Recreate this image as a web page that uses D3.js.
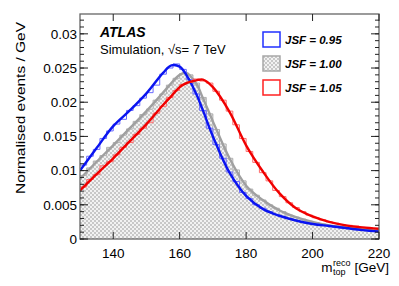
<!DOCTYPE html>
<html>
<head>
<meta charset="utf-8">
<script src="https://cdn.jsdelivr.net/npm/d3@7"></script>
<style>
  body { margin: 0; background: #fff; }
  svg { display: block; font-family: "Liberation Sans", Arial, Helvetica, sans-serif; }
</style>
</head>
<body>
<script>
// fit curves (knots)
var fitMass  = [130, 135, 140, 145, 150, 155, 157.5, 160, 162, 165, 167, 170, 175, 180, 185, 190, 195, 200, 205, 210, 215, 220];
var fitBlue  = [.0100, .0133, .0165, .0188, .0213, .0243, .0254, .0252, .0240, .0212, .0188, .0150, .0097, .0063, .0044, .0034, .0027, .0022, .0019, .0016, .0013, .0011];
var fitGray  = [.0088, .0113, .0137, .0162, .0187, .0214, .0228, .0240, .0243, .0227, .0206, .0172, .0118, .0078, .0057, .0042, .0032, .0025, .0020, .0017, .0015, .0013];
var fitRed   = [.0071, .0095, .0118, .0143, .0168, .0196, .0209, .0222, .0228, .0232, .0233, .0222, .0186, .0137, .0099, .0067, .0045, .0033, .0025, .0020, .0017, .0015];

// histogram bins, 2 GeV wide, low edges 130..218
var binEdges = d3.range(130, 220, 2);
var histBlue = [.0108, .0121, .0131, .0147, .0158, .0168, .0175, .0188, .0195, .0206, .0214, .0225, .0241, .0250, .0256,
                .0248, .0233, .0212, .0188, .0162, .0138, .0118, .0098, .0084, .0068, .0059, .0050, .0045, .0040, .0036,
                .0033, .0030, .0027, .0025, .0023, .0022, .0020, .0019, .0018, .0016, .0015, .0014, .0013, .0012, .0011];
var histGray = [.0093, .0104, .0114, .0122, .0134, .0141, .0152, .0161, .0172, .0182, .0190, .0203, .0212, .0225, .0235,
                .0242, .0240, .0228, .0207, .0183, .0160, .0139, .0118, .0101, .0085, .0073, .0064, .0057, .0050, .0045,
                .0040, .0035, .0032, .0029, .0026, .0024, .0022, .0020, .0019, .0018, .0017, .0016, .0015, .0014, .0013];
var histRed  = [.0076, .0087, .0094, .0107, .0113, .0123, .0134, .0141, .0153, .0162, .0170, .0184, .0194, .0207, .0217,
                .0226, .0229, .0234, .0231, .0228, .0216, .0203, .0187, .0167, .0147, .0128, .0112, .0097, .0085, .0071,
                .0062, .0053, .0046, .0040, .0035, .0031, .0028, .0025, .0023, .0021, .0020, .0019, .0017, .0016, .0015];

var xTicks = [140, 160, 180, 200, 220];
var yTicks = [0, 0.005, 0.01, 0.015, 0.02, 0.025, 0.03];
var legendLabels = ["JSF = 0.95", "JSF = 1.00", "JSF = 1.05"];

var W = 399, H = 286;
var margin = {top: 14, right: 20, bottom: 47, left: 80},
    width = W - margin.left - margin.right,
    height = H - margin.top - margin.bottom;

var svg = d3.select("body").append("svg")
    .attr("width", W)
    .attr("height", H);

// checker pattern for the nominal sample
var defs = svg.append("defs");
var pat = defs.append("pattern")
    .attr("id", "checker")
    .attr("patternUnits", "userSpaceOnUse")
    .attr("width", 4).attr("height", 4);
pat.append("rect").attr("width", 4).attr("height", 4).attr("fill", "#f2f2f2");
pat.append("rect").attr("width", 2).attr("height", 2).attr("fill", "#c8c8c8");
pat.append("rect").attr("x", 2).attr("y", 2).attr("width", 2).attr("height", 2).attr("fill", "#c8c8c8");

defs.append("clipPath").attr("id", "clip")
  .append("rect").attr("width", width).attr("height", height);

var g = svg.append("g")
    .attr("transform", "translate(" + margin.left + "," + margin.top + ")");

var x = d3.scaleLinear().domain([130, 220]).range([0, width]);
var y = d3.scaleLinear().domain([0, 0.0329]).range([height, 0]);

var plot = g.append("g").attr("clip-path", "url(#clip)");

function histPoints(vals) {
  var pts = binEdges.map(function(e, i) { return [e, vals[i]]; });
  pts.push([220, vals[vals.length - 1]]);
  return pts;
}

var stepLine = d3.line()
    .x(function(d) { return x(d[0]); })
    .y(function(d) { return y(d[1]); })
    .curve(d3.curveStepAfter);

var stepArea = d3.area()
    .x(function(d) { return x(d[0]); })
    .y0(y(0))
    .y1(function(d) { return y(d[1]); })
    .curve(d3.curveStepAfter);

var fitLine = d3.line()
    .x(function(d, i) { return x(fitMass[i]); })
    .y(function(d) { return y(d); })
    .curve(d3.curveCatmullRom.alpha(0.5));

// nominal: filled histogram
plot.append("path")
    .attr("d", stepArea(histPoints(histGray)))
    .attr("fill", "url(#checker)");

var series = [
  {hist: histGray, fit: fitGray, hc: "#b0b0b0", fc: "#a0a0a0"},
  {hist: histBlue, fit: fitBlue, hc: "#6a6aff", fc: "#0a14f0"},
  {hist: histRed,  fit: fitRed,  hc: "#ff6a6a", fc: "#f00000"}
];

series.forEach(function(s) {
  plot.append("path")
      .attr("d", stepLine(histPoints(s.hist)))
      .attr("fill", "none")
      .attr("stroke", s.hc)
      .attr("stroke-width", 1);
  plot.append("path")
      .attr("d", fitLine(s.fit))
      .attr("fill", "none")
      .attr("stroke", s.fc)
      .attr("stroke-width", 2.4);
});

// frame and ticks
g.append("rect")
    .attr("width", width).attr("height", height)
    .attr("fill", "none")
    .attr("stroke", "#666")
    .attr("stroke-width", 1.3);

var yMinor = d3.range(0, 0.0329, 0.001);
function tickLines(sel, data, len, side) {
  sel.selectAll(null).data(data).enter().append("line")
    .attr("x1", function(d) { return side == "l" ? 0 : side == "r" ? width : x(d); })
    .attr("x2", function(d) { return side == "l" ? len : side == "r" ? width - len : x(d); })
    .attr("y1", function(d) { return side == "b" ? height : side == "t" ? 0 : y(d); })
    .attr("y2", function(d) { return side == "b" ? height - len : side == "t" ? len : y(d); })
    .attr("stroke", "#222")
    .attr("stroke-width", 1);
}
var ticks = g.append("g");
tickLines(ticks, yTicks, 8, "l");
tickLines(ticks, yTicks, 8, "r");
tickLines(ticks, yMinor, 4, "l");
tickLines(ticks, yMinor, 4, "r");
tickLines(ticks, xTicks, 7, "b");
tickLines(ticks, xTicks, 7, "t");

// tick labels
g.selectAll(".ylab").data(yTicks).enter().append("text")
    .attr("x", -3)
    .attr("y", function(d) { return y(d); })
    .attr("dy", "0.36em")
    .attr("text-anchor", "end")
    .attr("font-size", 13.5)
    .attr("fill", "#000")
    .text(function(d) { return d3.format("~g")(d); });

g.selectAll(".xlab").data(xTicks).enter().append("text")
    .attr("x", function(d) { return x(d); })
    .attr("y", height + 19)
    .attr("text-anchor", "middle")
    .attr("font-size", 13.5)
    .attr("fill", "#000")
    .text(function(d) { return d; });

// axis titles
svg.append("text")
    .attr("transform", "translate(25,22) rotate(-90)")
    .attr("text-anchor", "end")
    .attr("font-size", 13.5)
    .attr("textLength", 172)
    .attr("lengthAdjust", "spacingAndGlyphs")
    .text("Normalised events / GeV");

// m_top^reco [GeV], laid out piece by piece from the right edge
var xtY = 272;
var gev = svg.append("text")
    .attr("x", 389).attr("y", xtY)
    .attr("text-anchor", "end")
    .attr("font-size", 13.5)
    .text("[GeV]");
var gevLeft = 389 - gev.node().getComputedTextLength();
var sup = svg.append("text")
    .attr("x", gevLeft - 4).attr("y", xtY - 6)
    .attr("text-anchor", "end")
    .attr("font-size", 9)
    .text("reco");
var sub = svg.append("text")
    .attr("x", gevLeft - 4).attr("y", xtY + 3)
    .attr("text-anchor", "end")
    .attr("font-size", 9)
    .text("top");
var scriptW = Math.max(sup.node().getComputedTextLength(), sub.node().getComputedTextLength());
sub.attr("text-anchor", "start").attr("x", gevLeft - 4 - scriptW);
sup.attr("text-anchor", "start").attr("x", gevLeft - 4 - scriptW);
svg.append("text")
    .attr("x", gevLeft - 4 - scriptW - 0.5).attr("y", xtY)
    .attr("text-anchor", "end")
    .attr("font-size", 13.5)
    .text("m");

// labels
svg.append("text")
    .attr("x", 100).attr("y", 37)
    .attr("font-size", 14)
    .attr("font-weight", "bold")
    .attr("font-style", "italic")
    .text("ATLAS");
svg.append("text")
    .attr("x", 100).attr("y", 54)
    .attr("font-size", 13)
    .text("Simulation, \u221As= 7 TeV");

// legend
var legendStroke = ["#2030ff", "#a8a8a8", "#ff2020"];
var legend = svg.append("g")
    .selectAll("g")
    .data(legendLabels)
    .enter().append("g")
      .attr("transform", function(d, i) { return "translate(263," + (32 + i * 24) + ")"; });

legend.append("rect")
    .attr("width", 17)
    .attr("height", 15)
    .attr("fill", function(d, i) { return i == 1 ? "url(#checker)" : "#fff"; })
    .attr("stroke", function(d, i) { return legendStroke[i]; })
    .attr("stroke-width", 1.5);

legend.append("text")
    .attr("x", 22)
    .attr("y", 7.5)
    .attr("dy", "0.36em")
    .attr("font-size", 11.5)
    .attr("font-weight", "bold")
    .attr("font-style", "italic")
    .text(function(d) { return d; });
</script>
</body>
</html>
